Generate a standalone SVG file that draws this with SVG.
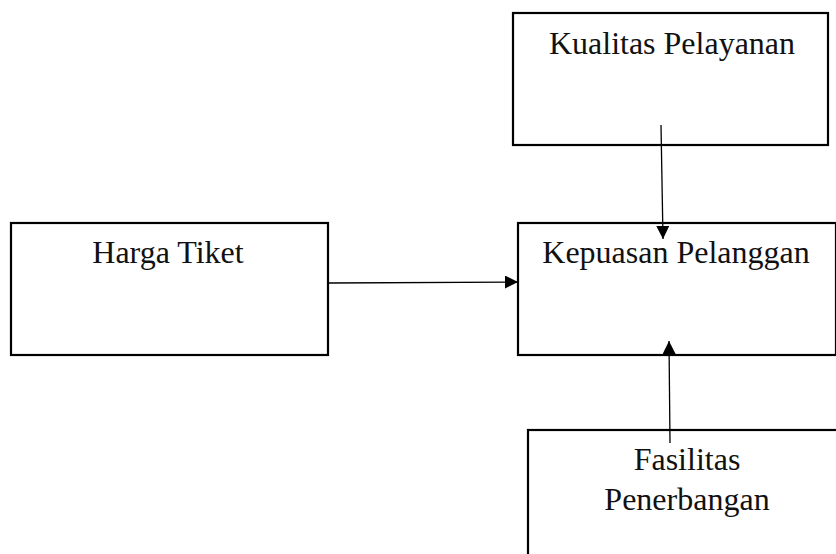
<svg xmlns="http://www.w3.org/2000/svg" width="836" height="554" viewBox="0 0 836 554">
<defs>
<style>
.box{fill:#fff;stroke:#000;stroke-width:2.2}
.lbl{font-family:"Liberation Serif","Times New Roman",serif;font-size:32px;fill:#111;text-anchor:middle}
.conn{stroke:#000;stroke-width:1.3;fill:none}
</style>
<marker id="ah" viewBox="0 0 10 10" refX="10" refY="5" markerWidth="15" markerHeight="13" markerUnits="userSpaceOnUse" orient="auto">
<path d="M0,0 L10,5 L0,10 Z" fill="#000"/>
</marker>
</defs>
<g id="kualitas">
<rect class="box" x="513" y="13" width="315" height="132"/>
<text class="lbl" x="672" y="54">Kualitas Pelayanan</text>
</g>
<g id="kepuasan">
<rect class="box" x="518" y="223" width="318" height="132"/>
<text class="lbl" x="676" y="263">Kepuasan Pelanggan</text>
</g>
<g id="harga">
<rect class="box" x="11" y="223" width="317" height="132"/>
<text class="lbl" x="168" y="263">Harga Tiket</text>
</g>
<g id="fasilitas">
<rect class="box" x="528" y="430" width="318" height="140"/>
<text class="lbl" x="687" y="470">Fasilitas</text>
<text class="lbl" x="687" y="510">Penerbangan</text>
</g>
<g id="connectors">
<line class="conn" x1="661" y1="125" x2="663" y2="239" marker-end="url(#ah)"/>
<line class="conn" x1="329" y1="283" x2="518" y2="282" marker-end="url(#ah)"/>
<line class="conn" x1="670" y1="443" x2="669" y2="341" marker-end="url(#ah)"/>
</g>
</svg>
